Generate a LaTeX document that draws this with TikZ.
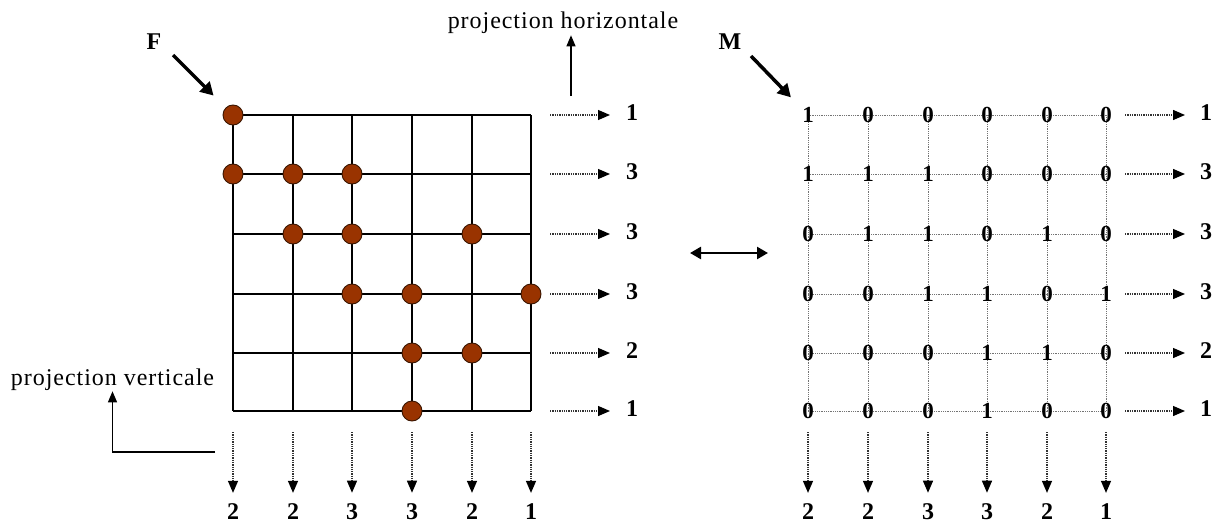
\documentclass[tikz,border=0pt]{standalone}
\usepackage{fontspec}
\setmainfont{Liberation Serif}
\newfontfamily\spacedserif[LetterSpace=4]{Liberation Serif}
\usetikzlibrary{arrows.meta}
\definecolor{dotbrown}{HTML}{993300}
\definecolor{dotedge}{HTML}{3A1500}
\begin{document}
\begin{tikzpicture}[x=1pt,y=-1pt,
  gridline/.style={line width=1.5pt,black},
  bead/.style={circle,fill=dotbrown,draw=dotedge,line width=0.9pt,minimum size=20pt,inner sep=0pt},
  projarrow/.style={densely dotted,line width=1.3pt,black!80,-{Triangle[length=12pt,width=10pt,fill=black,color=black]}},
  projnum/.style={font=\fontsize{24}{26}\selectfont\bfseries,inner sep=0pt},
  entry/.style={font=\fontsize{23}{25}\selectfont\bfseries,inner sep=0pt},
  mline/.style={densely dotted,line width=0.8pt,black!55},
  bigarrow/.style={line width=3.5pt,-{Triangle[length=13pt,width=14pt]}},
  label/.style={font=\fontsize{24}{26}\spacedserif,inner sep=1pt,anchor=base},
  biglabel/.style={font=\fontsize{24}{26}\selectfont\bfseries,inner sep=0pt},
  thinarrow/.style={line width=1.2pt,-{Triangle[length=11pt,width=9pt]}}
]
\useasboundingbox (0,0) rectangle (1218,527);
% left grid coordinates
\def\LX{{233,293,352,412,472,531}}
\def\RX{{808,868,928,987,1047,1106}}
\def\YY{{115,174,234,294,353,411}}
\foreach \i in {0,...,5}{
  \foreach \j in {0,...,5}{
    \pgfmathsetmacro{\xx}{\LX[\j]}
    \pgfmathsetmacro{\yy}{\YY[\i]}
    \coordinate (g-\i-\j) at (\xx,\yy);
  }
}
\foreach \k in {0,...,5}{
  \draw[gridline] (g-\k-0) -- (g-\k-5);
  \draw[gridline] (g-0-\k) -- (g-5-\k);
}
% beads
\foreach \i/\j in {0/0,1/0,1/1,1/2,2/1,2/2,2/4,3/2,3/3,3/5,4/3,4/4,5/3}{
  \node[bead] (b-\i-\j) at (g-\i-\j) {};
}
% F label
\node[biglabel] (F) at (154,42) {F};
\coordinate (Fs) at (173,55);
\draw[bigarrow,shorten >=17pt] (Fs) -- (b-0-0);
% horizontal projections left
\foreach \i/\v in {0/1,1/3,2/3,3/3,4/2,5/1}{
  \pgfmathsetmacro{\yy}{\YY[\i]}
  \coordinate (hs-\i) at (550,\yy);
  \node[projnum] (hn-\i) at (632,\yy-2) {\v};
  \draw[projarrow,shorten >=22pt] (hs-\i) -- (hs-\i -| hn-\i.center);
}
% vertical projections left
\foreach \j/\v in {0/2,1/2,2/3,3/3,4/2,5/1}{
  \pgfmathsetmacro{\xx}{\LX[\j]}
  \coordinate (vs-\j) at (\xx,432);
  \node[projnum] (vn-\j) at (\xx,512) {\v};
  \draw[projarrow,shorten >=11pt] (vs-\j) -- (vn-\j);
}
% projection labels
\node[label] (ph) at (563,29) {projection horizontale};
\coordinate (phs) at (571,96);
\draw[thinarrow] (phs) -- (phs |- ph.south);
\node[label] (pv) at (112.5,385) {projection verticale};
\coordinate (pvs) at (215,452);
\draw[thinarrow] (pvs) -| (pv.south);
% double arrow
\coordinate (da) at (690,253);
\coordinate (db) at (768,253);
\draw[line width=2.5pt,{Triangle[length=11pt,width=12pt]}-{Triangle[length=11pt,width=12pt]}] (da) -- (db);
% right matrix
\def\MAT{{{1,0,0,0,0,0},{1,1,1,0,0,0},{0,1,1,0,1,0},{0,0,1,1,0,1},{0,0,0,1,1,0},{0,0,0,1,0,0}}}
\foreach \i in {0,...,5}{
  \foreach \j in {0,...,5}{
    \pgfmathsetmacro{\xx}{\RX[\j]}
    \pgfmathsetmacro{\yy}{\YY[\i]}
    \coordinate (m-\i-\j) at (\xx,\yy);
  }
}
\foreach \k in {0,...,5}{
  \draw[mline] (m-\k-0) -- (m-\k-5);
  \draw[mline] (m-0-\k) -- (m-5-\k);
}
\foreach \i in {0,...,5}{
  \foreach \j in {0,...,5}{
    \pgfmathtruncatemacro{\vv}{\MAT[\i][\j]}
    \node[entry] (e-\i-\j) at (m-\i-\j) {\vv};
  }
}
\node[biglabel] (M) at (730,42) {M};
\coordinate (Ms) at (751,56);
\draw[bigarrow,shorten >=16pt] (Ms) -- (e-0-0);
\foreach \i/\v in {0/1,1/3,2/3,3/3,4/2,5/1}{
  \pgfmathsetmacro{\yy}{\YY[\i]}
  \coordinate (rhs-\i) at (1125,\yy);
  \node[projnum] (rhn-\i) at (1206,\yy-2) {\v};
  \draw[projarrow,shorten >=21pt] (rhs-\i) -- (rhs-\i -| rhn-\i.center);
}
\foreach \j/\v in {0/2,1/2,2/3,3/3,4/2,5/1}{
  \pgfmathsetmacro{\xx}{\RX[\j]}
  \coordinate (rvs-\j) at (\xx,432);
  \node[projnum] (rvn-\j) at (\xx,512) {\v};
  \draw[projarrow,shorten >=11pt] (rvs-\j) -- (rvn-\j);
}
\end{tikzpicture}
\end{document}
